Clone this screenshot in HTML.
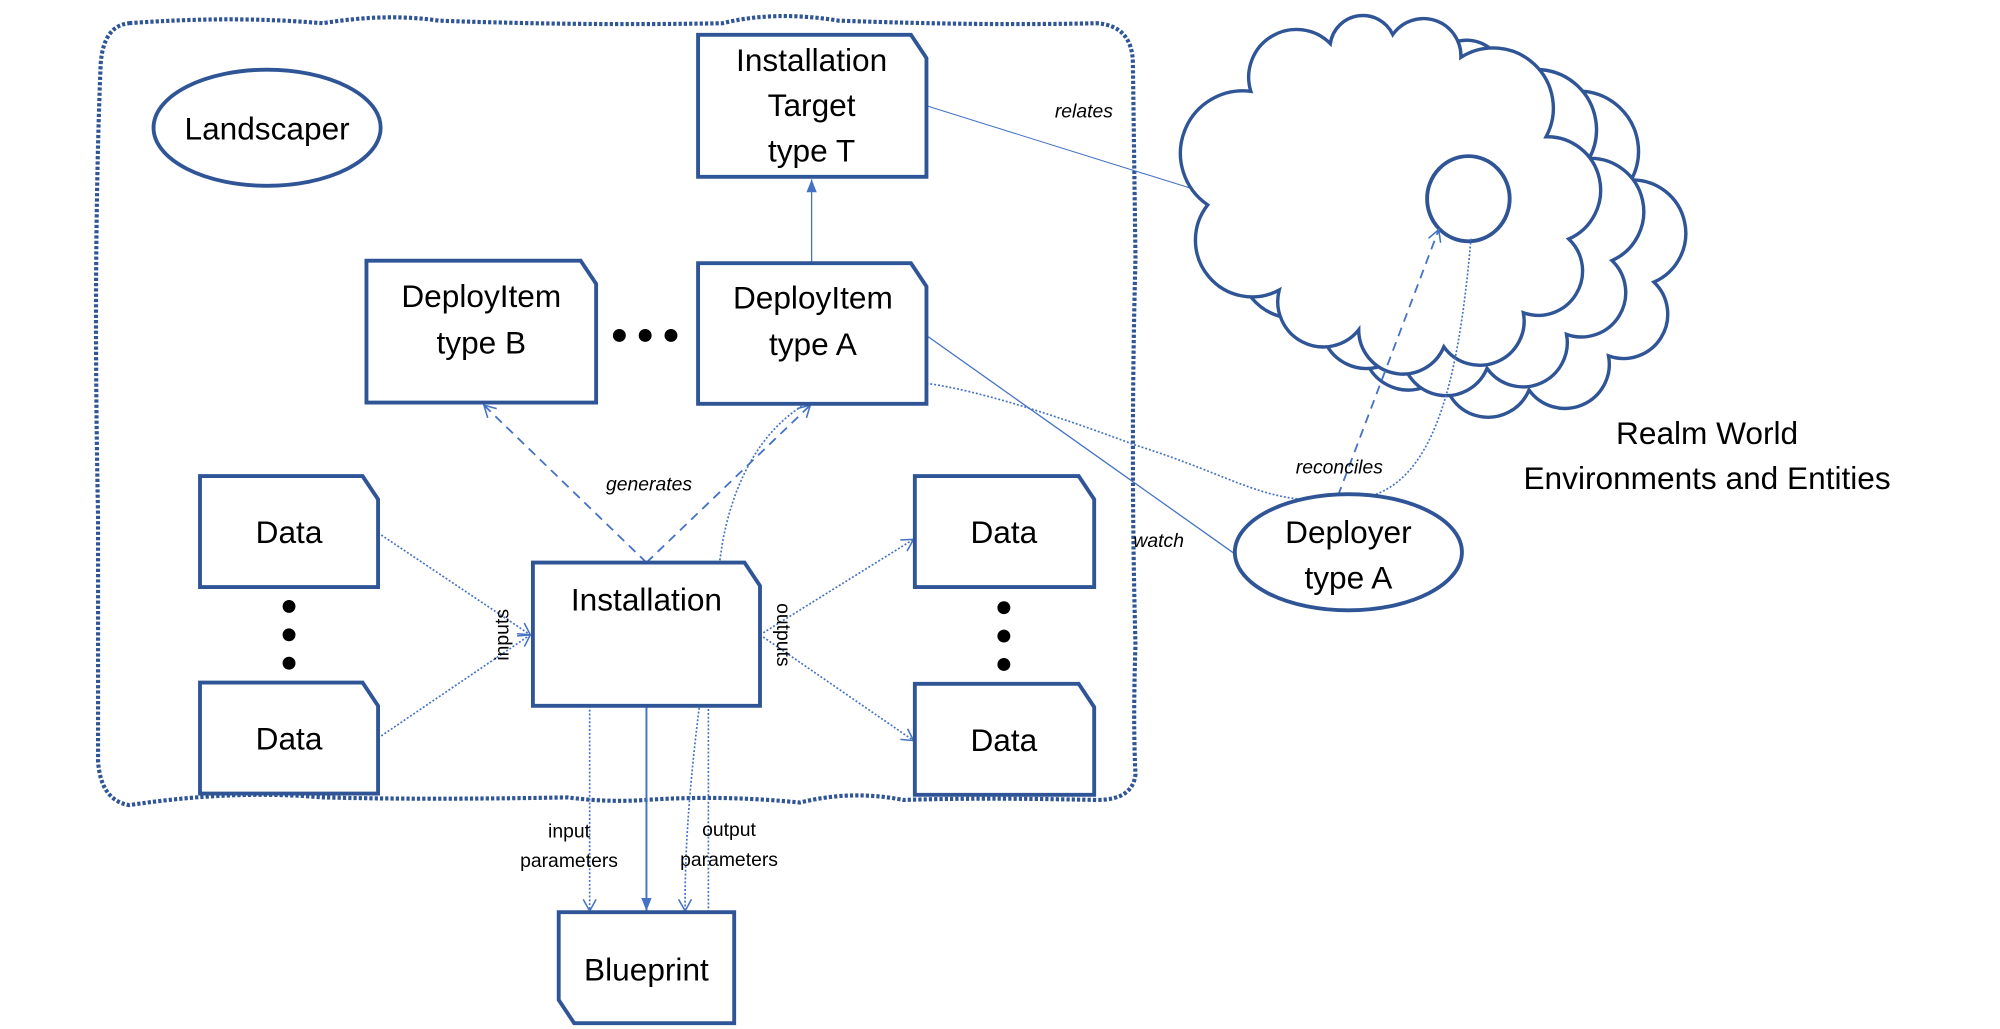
<!DOCTYPE html>
<html><head><meta charset="utf-8"><style>
html,body{margin:0;padding:0;background:#fff;}
svg{display:block;}
text{font-family:"Liberation Sans",sans-serif;fill:#000;}
</style></head><body>
<svg width="2000" height="1029" viewBox="0 0 1550 797.5" preserveAspectRatio="none" xmlns="http://www.w3.org/2000/svg">
<defs>
<marker id="ao" markerWidth="12" markerHeight="12" refX="10" refY="6" orient="auto" markerUnits="userSpaceOnUse"><path d="M1,1 L10,6 L1,11" fill="none" stroke="#4472C4" stroke-width="1.2"/></marker>
<marker id="af" markerWidth="12" markerHeight="12" refX="10" refY="6" orient="auto" markerUnits="userSpaceOnUse"><path d="M0,2 L10,6 L0,10 Z" fill="#4472C4"/></marker>
<path id="cl" d="M937,170 A55,55 0 0 1 975,70 A42,42 0 0 1 1045,28 A29,29 0 0 1 1100,20 A33,33 0 0 1 1160,40 A53,53 0 0 1 1235,110 A47,47 0 0 1 1255,200 A39,39 0 0 1 1215,265 A39,39 0 0 1 1145,295 A39,39 0 0 1 1070,280 A40,40 0 0 1 1000,245 A50,50 0 0 1 937,170 Z"/>
</defs>

<!-- Landscaper border -->
<path d="M100,18 Q180,12 250,18 Q300,10 340,16 Q450,20 560,18 Q600,8 650,16 Q760,20 850,18 Q878,20 878,50 L880,200 Q876,350 880,500 Q878,560 880,600 Q878,620 850,620 Q760,618 700,620 Q660,612 620,622 Q560,616 500,620 Q470,622 440,618 Q330,620 250,618 Q180,612 100,624 Q78,620 76,590 L76,400 Q72,200 78,50 Q80,20 100,18 Z" fill="none" stroke="#2F5597" stroke-width="3.2" stroke-dasharray="2.5 1.6"/>

<line x1="718" y1="82" x2="936" y2="150" stroke="#4472C4" stroke-width="0.8"/>

<!-- clouds -->
<g fill="#fff" stroke="#2F5597" stroke-width="3">
<g transform="translate(1075,150) scale(0.88) translate(-1095,-160)">
<use href="#cl" transform="translate(75,38)"/>
<use href="#cl" transform="translate(38,19)"/>
<use href="#cl"/>
</g>
<ellipse cx="1138" cy="154" rx="32" ry="33"/>
</g>

<!-- connectors -->
<g fill="none" stroke="#4472C4" stroke-width="1">
<line x1="718" y1="260" x2="958" y2="430"/>
<line x1="629" y1="203" x2="629" y2="139" marker-end="url(#af)"/>
<line x1="501" y1="547" x2="501" y2="706" stroke-width="1.5" marker-end="url(#af)"/>
<g stroke-dasharray="7 5" stroke-width="1.4">
<line x1="501" y1="436" x2="375" y2="314" marker-end="url(#ao)"/>
<line x1="501" y1="436" x2="628" y2="314" marker-end="url(#ao)"/>
<line x1="1037" y1="384" x2="1115" y2="178" marker-end="url(#ao)"/>
</g>
<g stroke-dasharray="1.5 1.5" stroke-width="1.3">
<line x1="293" y1="413" x2="411" y2="492" marker-end="url(#ao)"/>
<line x1="293" y1="572" x2="411" y2="492" marker-end="url(#ao)"/>
<path d="M413,492 H457 V706" marker-end="url(#ao)"/>
<line x1="589" y1="492" x2="708" y2="418" marker-end="url(#ao)"/>
<line x1="589" y1="492" x2="708" y2="574" marker-end="url(#ao)"/>
<path d="M549,707 V492 H588" marker-end="url(#ao)"/>
<path d="M1140,185 C1130,300 1110,390 1040,387 C980,392 960,370 880,345 C800,315 720,290 680,296 C620,300 575,340 560,420 C545,520 530,620 531,706" marker-end="url(#ao)"/>
</g>
</g>

<!-- boxes -->
<g fill="#fff" stroke="#2F5597" stroke-width="3">
<ellipse cx="207" cy="99" rx="88" ry="45"/>
<path d="M541,27 H706 L718,45 V137 H541 Z"/>
<path d="M284,202 H450 L462,220 V312 H284 Z"/>
<path d="M541,204 H706 L718,222 V313 H541 Z"/>
<path d="M155,369 H281 L293,387 V455 H155 Z"/>
<path d="M155,529 H281 L293,547 V615 H155 Z"/>
<path d="M413,436 H577 L589,454 V547 H413 Z"/>
<path d="M709,369 H836 L848,387 V455 H709 Z"/>
<path d="M709,530 H836 L848,548 V616 H709 Z"/>
<path d="M433,707 H569 V793 H445 L433,775 Z"/>
<ellipse cx="1045" cy="428" rx="88" ry="45"/>
</g>

<!-- dots -->
<g fill="#000">
<circle cx="480" cy="260" r="5"/><circle cx="500" cy="260" r="5"/><circle cx="520" cy="260" r="5"/>
<circle cx="224" cy="470" r="5"/><circle cx="224" cy="492" r="5"/><circle cx="224" cy="514" r="5"/>
<circle cx="778" cy="471" r="5"/><circle cx="778" cy="493" r="5"/><circle cx="778" cy="515" r="5"/>
</g>

<!-- text -->
<g font-size="24.5" text-anchor="middle">
<text x="207" y="108">Landscaper</text>
<text x="629" y="55">Installation</text>
<text x="629" y="90">Target</text>
<text x="629" y="125">type T</text>
<text x="373" y="238">DeployItem</text>
<text x="373" y="274">type B</text>
<text x="630" y="239">DeployItem</text>
<text x="630" y="275">type A</text>
<text x="224" y="421">Data</text>
<text x="224" y="581">Data</text>
<text x="501" y="473">Installation</text>
<text x="778" y="421">Data</text>
<text x="778" y="582">Data</text>
<text x="501" y="760">Blueprint</text>
<text x="1045" y="421">Deployer</text>
<text x="1045" y="456">type A</text>
<text x="1323" y="344">Realm World</text>
<text x="1323" y="379">Environments and Entities</text>
</g>
<g font-size="15" font-style="italic" text-anchor="middle">
<text x="840" y="91">relates</text>
<text x="503" y="380">generates</text>
<text x="1038" y="367">reconciles</text>
<text x="898" y="424">watch</text>
</g>
<g font-size="15" text-anchor="middle">
<text x="441" y="649">input</text>
<text x="441" y="672">parameters</text>
<text x="565" y="648">output</text>
<text x="565" y="671">parameters</text>
<text transform="translate(394,492) rotate(-90)">inputs</text>
<text transform="translate(602,492) rotate(90)">outputs</text>
</g>
</svg>
</body></html>
